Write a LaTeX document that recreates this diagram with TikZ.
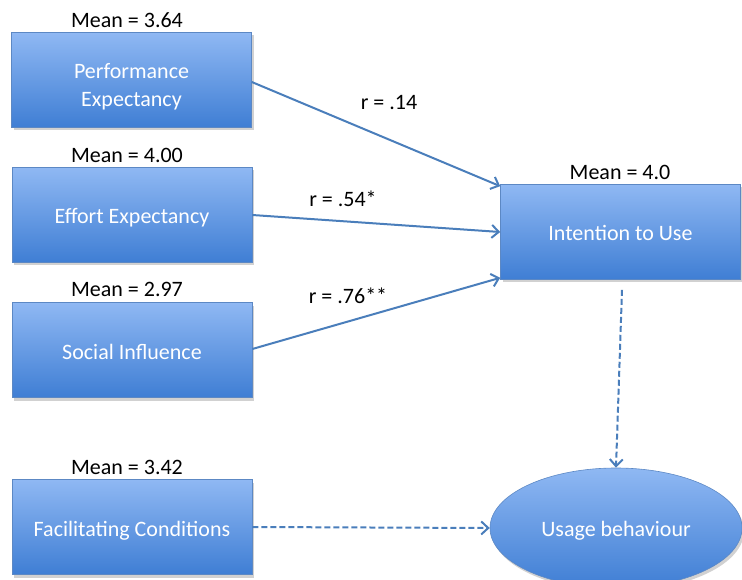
\documentclass[tikz,border=0pt]{standalone}
\usepackage{fontspec}
\setmainfont{Carlito}
\usetikzlibrary{shapes.geometric,arrows.meta,shadows}
\definecolor{boxtop}{HTML}{8FB8F3}
\definecolor{boxbot}{HTML}{3F7ED4}
\definecolor{boxedge}{HTML}{5C88C4}
\definecolor{arrowc}{HTML}{4A7EBB}
\begin{document}
\begin{tikzpicture}[x=1pt,y=-1pt,
  shade/.style={top color=boxtop, bottom color=boxbot, draw=boxedge, line width=0.6pt,
    text=white, font=\fontsize{22}{28}\selectfont, align=center,
    drop shadow={shadow xshift=2pt, shadow yshift=-3pt, opacity=0.3, fill=black!60}},
  box/.style={shade, rectangle, minimum width=240pt, minimum height=95pt, inner sep=0pt,
    text height=23pt, text depth=5pt},
  oval/.style={shade, ellipse, minimum width=252pt, minimum height=120pt, inner sep=0pt,
    text height=22pt, text depth=5pt},
  meanlbl/.style={font=\fontsize{22}{26}\selectfont, text=black, inner sep=0pt},
  rlbl/.style={font=\fontsize{22}{26}\selectfont, text=black, inner sep=0pt},
  conn/.style={draw=arrowc, line width=2pt, -{Straight Barb[length=7pt,width=13pt,line width=2pt]}},
  dconn/.style={conn, dash pattern=on 6pt off 3pt}
]
\useasboundingbox (0,0) rectangle (742,580);
\node[box, text height=, text depth=] (pe) at (131.5,80) {\rule{0pt}{28pt}Performance\\Expectancy};
\node[box] (ee) at (132,215) {Effort Expectancy};
\node[box] (si) at (132,350) {Social Influence};
\node[box] (fc) at (132,527) {Facilitating Conditions};
\node[box] (iu) at (620.5,232) {Intention to Use};
\node[oval] (ub) at (616,528) {Usage behaviour};

\node[meanlbl] (m1) at (127,20) {Mean = 3.64};
\node[meanlbl] (m2) at (127,155) {Mean = 4.00};
\node[meanlbl] (m3) at (127,289) {Mean = 2.97};
\node[meanlbl] (m4) at (127,467) {Mean = 3.42};
\node[meanlbl] (m5) at (620,172) {Mean = 4.0};

\node[rlbl] (r1) at (389,103) {r = .14};
\node[rlbl] (r2) at (343,199) {r = .54*};
\node[rlbl] (r3) at (348,296) {r = .76**};

\draw[conn] ([yshift=-2pt]pe.east) -- ([yshift=-2pt]iu.north west);
\draw[conn] (ee.east) -- (iu.west);
\draw[conn] ([yshift=1pt]si.east) -- ([yshift=2pt]iu.south west);
\draw[dconn] ([xshift=1.5pt,yshift=-10pt]iu.south) -- (ub.north);
\draw[dconn] (fc.east) -- (ub.west);
\end{tikzpicture}
\end{document}
